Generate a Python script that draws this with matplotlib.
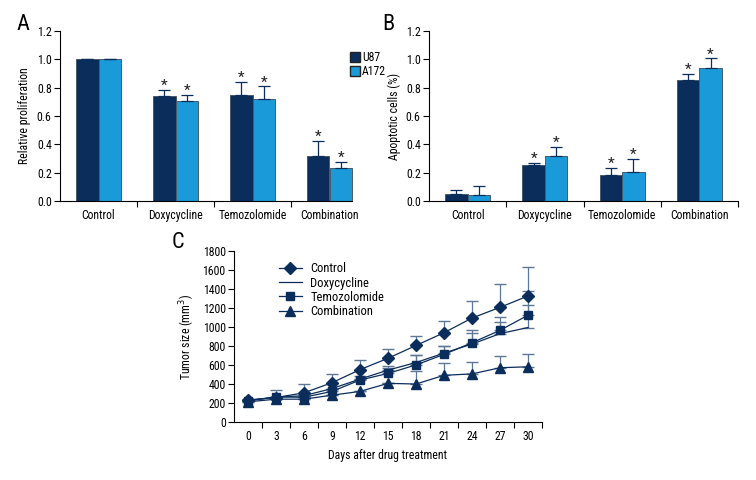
import numpy as np
import matplotlib
matplotlib.use("Agg")
from matplotlib import pyplot as plt
from matplotlib import font_manager
from matplotlib.lines import Line2D
from matplotlib.patches import Patch

# pick a narrow font if one is installed
fonts = font_manager.fontManager.ttflist
family_names = {f.name for f in fonts}
FONT = "Roboto"
STRETCH = "normal"
for cand in ["Liberation Sans Narrow", "Roboto Condensed", "Open Sans Condensed",
             "Noto Sans Condensed"]:
    if cand in family_names:
        FONT = cand
        break
else:
    if any(f.name == "DejaVu Sans" and f.stretch == "condensed" for f in fonts):
        FONT, STRETCH = "DejaVu Sans", "condensed"

plt.rcParams["font.family"] = [FONT, "DejaVu Sans"]
plt.rcParams["font.stretch"] = STRETCH
plt.rcParams["font.size"] = 8.5

NAVY = "#0b2d5b"
BLUE = "#1a9ad8"
EDGE = "#4a5a6a"

# Panel A / B data
groups = ["Control", "Doxycycline", "Temozolomide", "Combination"]
prolif_u87 = [1.0, 0.738, 0.749, 0.317]
prolif_u87_err = [0.0, 0.045, 0.093, 0.105]
prolif_a172 = [1.0, 0.703, 0.719, 0.233]
prolif_a172_err = [0.0, 0.045, 0.09, 0.04]
prolif_star_u87 = [False, True, True, True]
prolif_star_a172 = [False, True, True, True]

apop_u87 = [0.051, 0.253, 0.187, 0.854]
apop_u87_err = [0.03, 0.017, 0.045, 0.042]
apop_a172 = [0.042, 0.321, 0.208, 0.936]
apop_a172_err = [0.063, 0.06, 0.09, 0.07]
apop_star_u87 = [False, True, True, True]
apop_star_a172 = [False, True, True, True]

# Panel C data
days = [0, 3, 6, 9, 12, 15, 18, 21, 24, 27, 30]
control = [230, 255, 305, 412, 550, 670, 805, 940, 1095, 1208, 1328]
control_err = [0, 85, 90, 88, 105, 102, 102, 125, 175, 243, 303]
doxy = [225, 258, 275, 350, 450, 545, 625, 725, 820, 930, 995]
doxy_err = [0, 0, 0, 0, 0, 43, 75, 70, 112, 125, 390]
temo = [220, 262, 258, 320, 440, 510, 600, 711, 834, 965, 1125]
temo_err = [0, 0, 0, 30, 40, 55, 100, 90, 135, 140, 113]
comb = [210, 238, 238, 280, 320, 405, 398, 490, 505, 570, 580]
comb_err = [0, 0, 0, 0, 0, 0, 135, 135, 130, 125, 130]

fig = plt.figure(figsize=(7.56, 4.8), dpi=100)


def bar_panel(ax, u87, u87_err, a172, a172_err, star_u87, star_a172, ylabel,
              xmax_spine, label_x):
    x = np.arange(len(groups))
    w = 0.29
    err_kw = dict(ecolor=NAVY, elinewidth=0.9, capsize=4, capthick=0.9)
    ax.bar(x - w / 2, u87, w, color=NAVY, edgecolor=EDGE, linewidth=0.7,
           yerr=[np.zeros(len(u87)), u87_err], error_kw=err_kw)
    ax.bar(x + w / 2, a172, w, color=BLUE, edgecolor=EDGE, linewidth=0.7,
           yerr=[np.zeros(len(a172)), a172_err], error_kw=err_kw)
    for i in range(len(groups)):
        if star_u87[i]:
            ax.text(x[i] - w / 2, u87[i] + u87_err[i] + 0.028, "*",
                    ha="center", va="center", fontsize=11, color="#222222")
        if star_a172[i]:
            ax.text(x[i] + w / 2, a172[i] + a172_err[i] + 0.028, "*",
                    ha="center", va="center", fontsize=11, color="#222222")
    ax.set_xlim(-0.5, 3.5)
    ax.set_ylim(0, 1.2)
    ax.set_yticks(np.arange(0, 1.21, 0.2))
    ax.set_yticklabels([f"{v:.1f}" for v in np.arange(0, 1.21, 0.2)])
    ax.set_xticks(x)
    ax.set_xticklabels(groups)
    ax.set_xticks([0.5, 1.5, 2.5, 3.5], minor=True)
    ax.tick_params(axis="x", which="major", length=0, pad=6)
    ax.tick_params(axis="x", which="minor", length=4, width=0.8)
    ax.tick_params(axis="y", length=4, width=0.8, pad=2)
    ax.set_ylabel(ylabel)
    ax.yaxis.set_label_coords(label_x, 0.5)
    for s in ["top", "right"]:
        ax.spines[s].set_visible(False)
    ax.spines["left"].set_linewidth(0.8)
    ax.spines["bottom"].set_linewidth(0.8)
    ax.spines["bottom"].set_bounds(-0.5, xmax_spine)


axA = fig.add_axes([60 / 756, 1 - 201 / 480, 308 / 756, 170 / 480])
bar_panel(axA, prolif_u87, prolif_u87_err, prolif_a172, prolif_a172_err,
          prolif_star_u87, prolif_star_a172, "Relative proliferation", 3.29, -0.095)
axA.set_xticks([0.5, 1.5, 2.5], minor=True)

axB = fig.add_axes([429 / 756, 1 - 201 / 480, 309 / 756, 170 / 480])
bar_panel(axB, apop_u87, apop_u87_err, apop_a172, apop_a172_err,
          apop_star_u87, apop_star_a172, "Apoptotic cells (%)", 3.5, -0.092)

fig.legend(handles=[Patch(facecolor=NAVY, edgecolor="#222222", label="U87"),
                    Patch(facecolor=BLUE, edgecolor="#222222", label="A172")],
           loc="upper left", bbox_to_anchor=(345 / 756, 1 - 46 / 480),
           frameon=False, handlelength=0.9, handleheight=0.9,
           handletextpad=0.15, labelspacing=0.1, borderaxespad=0, fontsize=8.5)

# Panel C
axC = fig.add_axes([234 / 756, 1 - 421.7 / 480, 308 / 756, 170.4 / 480])
series = [
    ("Control", control, control_err, "D", 6),
    ("Doxycycline", doxy, doxy_err, "", 0),
    ("Temozolomide", temo, temo_err, "s", 5.5),
    ("Combination", comb, comb_err, "^", 6.5),
]
handles = []
for name, vals, err, marker, ms in series:
    axC.errorbar(days, vals, yerr=[np.zeros(len(err)), err], color=NAVY,
                 ecolor="#5d7896", elinewidth=0.9, capsize=4, capthick=1.0,
                 lw=0.9, marker=marker if marker else None, ms=ms,
                 mfc=NAVY, mec=NAVY)
    handles.append(Line2D([], [], color=NAVY, lw=0.9, marker=marker if marker else None,
                          ms=ms, mfc=NAVY, mec=NAVY, label=name))
axC.set_xlim(-1.5, 31.5)
axC.set_ylim(0, 1800)
axC.set_yticks(np.arange(0, 1801, 200))
axC.set_xticks(days)
axC.set_xticks(np.arange(1.5, 31.6, 3), minor=True)
axC.tick_params(axis="x", which="major", length=0, pad=6)
axC.tick_params(axis="x", which="minor", length=4, width=0.8)
axC.tick_params(axis="y", length=4, width=0.8, pad=2)
axC.set_xlabel("Days after drug treatment", labelpad=4)
axC.set_ylabel("Tumor size (mm$^3$)", labelpad=4)
for s in ["top", "right"]:
    axC.spines[s].set_visible(False)
axC.spines["left"].set_linewidth(0.8)
axC.spines["bottom"].set_linewidth(0.8)
axC.legend(handles=handles, loc="upper left", bbox_to_anchor=(0.13, 0.965),
           frameon=False, handlelength=1.8, handletextpad=0.7,
           labelspacing=0.1, borderaxespad=0, fontsize=9)

fig.text(16 / 756, 1 - 25 / 480, "A", fontsize=16, va="center")
fig.text(382 / 756, 1 - 25 / 480, "B", fontsize=16, va="center")
fig.text(172 / 756, 1 - 242 / 480, "C", fontsize=16, va="center")

fig.savefig("out.png", dpi=100)
